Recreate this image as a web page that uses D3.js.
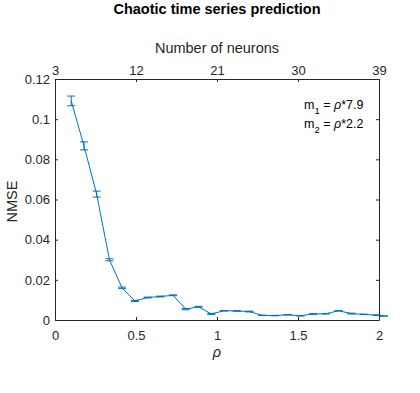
<!DOCTYPE html>
<html>
<head>
<meta charset="utf-8">
<script src="https://cdn.jsdelivr.net/npm/d3@7"></script>
<style>
	body { margin: 0; background: #fff; }
	svg { display: block; font-family: "Liberation Sans", Arial, Helvetica, sans-serif; }
	.axis path, .axis line { stroke: #262626; }
	.axis text { fill: #262626; font-size: 13px; }
</style>
</head>
<body>
<svg width="420" height="393"></svg>
<script>
// values
const rho = [0.100, 0.179, 0.257, 0.336, 0.414, 0.493, 0.572, 0.650, 0.729, 0.807,
	0.886, 0.965, 1.043, 1.122, 1.200, 1.279, 1.357, 1.436, 1.515, 1.593,
	1.672, 1.750, 1.829, 1.907, 1.986, 2.030];
const nmse = [0.1091, 0.0867, 0.0627, 0.0300, 0.0160, 0.0095, 0.0112, 0.0117, 0.0123, 0.0054,
	0.0066, 0.0030, 0.0046, 0.0045, 0.0042, 0.0023, 0.0022, 0.0026, 0.0021, 0.0030,
	0.0031, 0.0046, 0.0032, 0.0028, 0.0024, 0.0020];
const err = [0.0024, 0.0020, 0.0015, 0.0005, 0.0004, 0.0003, 0.0002, 0.0002, 0.0002, 0.0003,
	0.0002, 0.0003, 0.0001, 0.0001, 0.0002, 0.0001, 0.0001, 0.0001, 0.0001, 0.0001,
	0.0001, 0.0001, 0.0002, 0.0001, 0.0001, 0.0001];

const rho_ticks = [0, 0.5, 1, 1.5, 2];
const neuron_ticks = [3, 12, 21, 30, 39];
const nmse_ticks = [0, 0.02, 0.04, 0.06, 0.08, 0.1, 0.12];
const notes = [["1", "7.9"], ["2", "2.2"]];

var svg = d3.select("svg");
var margin = {left: 55, top: 79, right: 41, bottom: 73};
var w = 420 - margin.left - margin.right;
var h = 393 - margin.top - margin.bottom;
const blue = "#0072BD";

var x = d3.scaleLinear().domain([0, 2]).range([0, w]);
var xn = d3.scaleLinear().domain([3, 39]).range([0, w]);
var y = d3.scaleLinear().domain([0, 0.12]).range([h, 0]);

const g = svg.append("g").attr("transform", "translate(" + margin.left + "," + margin.top + ")");

// axes (box on, ticks pointing in)
g.append("g").attr("class", "axis")
	.attr("transform", "translate(0," + h + ")")
	.call(d3.axisBottom(x).tickValues(rho_ticks).tickFormat(d3.format("")).tickSizeInner(-3).tickSizeOuter(0).tickPadding(11));
g.append("g").attr("class", "axis")
	.call(d3.axisTop(xn).tickValues(neuron_ticks).tickSizeInner(-3).tickSizeOuter(0).tickPadding(4));
g.append("g").attr("class", "axis")
	.call(d3.axisLeft(y).tickValues(nmse_ticks).tickFormat(d3.format("")).tickSizeInner(-3).tickSizeOuter(0).tickPadding(5));
g.append("g").attr("class", "axis")
	.attr("transform", "translate(" + w + ",0)")
	.call(d3.axisRight(y).tickValues(nmse_ticks).tickFormat("").tickSizeInner(-3).tickSizeOuter(0));
g.selectAll(".axis text").attr("font-family", null).attr("font-size", null);

// series
var data = rho.map(function(r, i) { return {r: r, v: nmse[i], e: err[i]}; });

g.append("path")
	.datum(data)
	.attr("fill", "none")
	.attr("stroke", blue)
	.attr("stroke-width", 1)
	.attr("d", d3.line().x(function(d) { return x(d.r); }).y(function(d) { return y(d.v); }));

var bars = g.selectAll(".ebar").data(data).enter().append("g").attr("class", "ebar")
	.attr("stroke", blue).attr("stroke-width", 1);
bars.append("line")
	.attr("x1", function(d) { return x(d.r); }).attr("x2", function(d) { return x(d.r); })
	.attr("y1", function(d) { return y(d.v - d.e); }).attr("y2", function(d) { return y(d.v + d.e); });
[-1, 1].forEach(function(s) {
	bars.append("line")
		.attr("x1", function(d) { return x(d.r) - 4; }).attr("x2", function(d) { return x(d.r) + 4; })
		.attr("y1", function(d) { return y(d.v + s * d.e); }).attr("y2", function(d) { return y(d.v + s * d.e); });
});

// labels
svg.append("text").attr("x", margin.left + w / 2).attr("y", 14)
	.attr("text-anchor", "middle").attr("font-weight", "bold").attr("font-size", 14.5)
	.attr("fill", "#000").text("Chaotic time series prediction");
svg.append("text").attr("x", margin.left + w / 2).attr("y", 52.5)
	.attr("text-anchor", "middle").attr("font-size", 14.5)
	.attr("fill", "#262626").text("Number of neurons");
svg.append("text").attr("x", margin.left + w / 2).attr("y", 357)
	.attr("text-anchor", "middle").attr("font-size", 14.5).attr("font-style", "italic")
	.attr("fill", "#262626").text("ρ");
svg.append("text").attr("transform", "translate(16.5,201.5) rotate(-90)")
	.attr("text-anchor", "middle").attr("font-size", 14.5)
	.attr("fill", "#262626").text("NMSE");

// annotation
notes.forEach(function(n, i) {
	var t = svg.append("text").attr("x", 304).attr("y", 109 + i * 18.5)
		.attr("font-size", 12.5).attr("fill", "#000");
	t.append("tspan").text("m");
	t.append("tspan").attr("dy", 5).attr("font-size", 9.5).text(n[0]);
	t.append("tspan").attr("dy", -5).text(" = ");
	t.append("tspan").attr("font-style", "italic").text("ρ");
	t.append("tspan").text("*" + n[1]);
});
</script>
</body>
</html>
